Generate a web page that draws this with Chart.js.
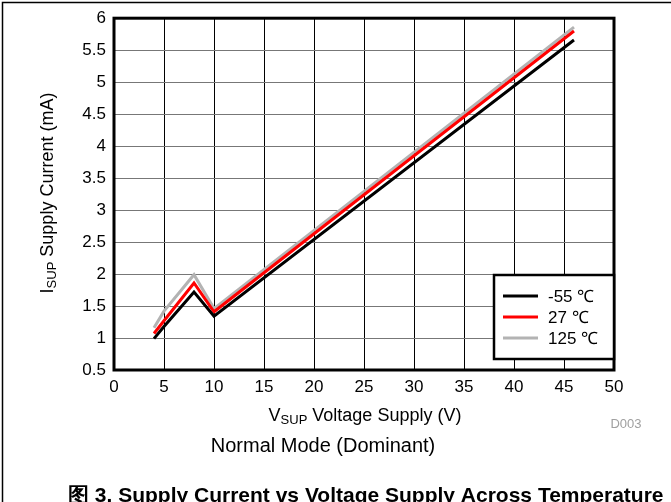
<!DOCTYPE html>
<html>
<head>
<meta charset="utf-8">
<script src="https://cdn.jsdelivr.net/npm/chart.js@4"></script>
<style>
  html, body { margin: 0; padding: 0; background: #fff; }
  #wrap { position: relative; width: 671px; height: 502px; }
</style>
</head>
<body>
<div id="wrap"><canvas id="supplyChart" width="671" height="502"></canvas></div>
<script>
// =============================
// data
// =============================
const voltage = [4, 5, 8, 10, 46];
const iMinus55 = [0.99, 1.18, 1.72, 1.34, 5.66];
const i27 = [1.07, 1.27, 1.86, 1.41, 5.8];
const i125 = [1.16, 1.42, 1.99, 1.46, 5.86];

const seriesLabels = ["-55 \u2103", "27 \u2103", "125 \u2103"];
const seriesColors = ["#000000", "#ff0000", "#b3b3b3"];

const xTicks = [0, 5, 10, 15, 20, 25, 30, 35, 40, 45, 50];
const yTicks = [0.5, 1, 1.5, 2, 2.5, 3, 3.5, 4, 4.5, 5, 5.5, 6];

const FONT = "'Liberation Sans', Arial, sans-serif";

function toPoints(ys) {
  return voltage.map((v, i) => ({ x: v, y: ys[i] }));
}

// text with a subscript part, drawn left to right on an alphabetic baseline
function drawSubText(ctx, parts, x, y) {
  let cx = x;
  parts.forEach((p) => {
    ctx.font = p.sub ? "13px " + FONT : "18px " + FONT;
    ctx.fillText(p.t, cx, y + (p.sub ? 3 : 0));
    cx += ctx.measureText(p.t).width;
  });
}
function measureSub(ctx, parts) {
  let w = 0;
  parts.forEach((p) => {
    ctx.font = p.sub ? "13px " + FONT : "18px " + FONT;
    w += ctx.measureText(p.t).width;
  });
  return w;
}

// frame, titles, legend box and captions
const decorPlugin = {
  id: "decor",
  afterDraw(chart) {
    const ctx = chart.ctx;
    const a = chart.chartArea;
    ctx.save();

    // outer page frame
    ctx.strokeStyle = "#000";
    ctx.lineWidth = 1.5;
    ctx.beginPath();
    ctx.moveTo(2.5, 502);
    ctx.lineTo(2.5, 2.5);
    ctx.lineTo(671, 2.5);
    ctx.stroke();

    // plot frame
    ctx.lineWidth = 3;
    ctx.strokeRect(a.left, a.top, a.right - a.left, a.bottom - a.top);

    // legend box
    const lx = 494, ly = 275, lw = 120, lh = 84;
    ctx.fillStyle = "#fff";
    ctx.fillRect(lx, ly, lw, lh);
    ctx.lineWidth = 2.5;
    ctx.strokeRect(lx, ly, lw, lh);
    ctx.font = "17px " + FONT;
    ctx.textBaseline = "middle";
    ctx.textAlign = "left";
    chart.data.datasets.forEach((ds, i) => {
      const yy = ly + 21 + i * 21;
      ctx.strokeStyle = ds.borderColor;
      ctx.lineWidth = 3;
      ctx.beginPath();
      ctx.moveTo(503, yy);
      ctx.lineTo(538, yy);
      ctx.stroke();
      ctx.fillStyle = "#000";
      ctx.fillText(ds.label, 548, yy + 1);
    });

    // x axis title
    ctx.fillStyle = "#000";
    ctx.textBaseline = "alphabetic";
    const xParts = [{ t: "V" }, { t: "SUP", sub: true }, { t: " Voltage Supply (V)" }];
    const xw = measureSub(ctx, xParts);
    drawSubText(ctx, xParts, 365 - xw / 2, 421);

    // y axis title
    ctx.save();
    ctx.translate(53, 193);
    ctx.rotate(-Math.PI / 2);
    const yParts = [{ t: "I" }, { t: "SUP", sub: true }, { t: " Supply Current (mA)" }];
    const yw = measureSub(ctx, yParts);
    drawSubText(ctx, yParts, -yw / 2, 0);
    ctx.restore();

    // figure id
    ctx.font = "13px " + FONT;
    ctx.fillStyle = "#a0a0a0";
    ctx.textAlign = "center";
    ctx.textBaseline = "middle";
    ctx.fillText("D003", 626, 424);

    // mode subtitle
    ctx.font = "20px " + FONT;
    ctx.fillStyle = "#000";
    ctx.textBaseline = "alphabetic";
    ctx.fillText("Normal Mode (Dominant)", 323, 452);

    // caption (cut by the page edge like the reference)
    ctx.font = "bold 21px " + FONT;
    ctx.textAlign = "left";
    ctx.fillText("\u56fe 3. Supply Current vs Voltage Supply Across Temperature", 68, 502);

    ctx.restore();
  },
};

const datasets = [iMinus55, i27, i125].map((ys, i) => ({
  label: seriesLabels[i],
  data: toPoints(ys),
  borderColor: seriesColors[i],
  borderWidth: 3,
  pointRadius: 0,
  tension: 0,
  fill: false,
  order: i,
}));

new Chart(document.getElementById("supplyChart"), {
  type: "line",
  data: { datasets },
  options: {
    responsive: false,
    animation: false,
    events: [],
    layout: { padding: { left: 0, top: 17, right: 57, bottom: 0 } },
    scales: {
      x: {
        type: "linear",
        min: 0,
        max: 50,
        afterBuildTicks: (s) => { s.ticks = xTicks.map((v) => ({ value: v })); },
        afterFit: (s) => { s.height = 132; },
        grid: { color: "#000", lineWidth: 1, drawTicks: false },
        border: { display: false },
        ticks: {
          color: "#000",
          font: { family: FONT, size: 17 },
          padding: 7,
          maxRotation: 0,
          callback: (v) => String(v),
        },
      },
      y: {
        type: "linear",
        min: 0.5,
        max: 6,
        afterBuildTicks: (s) => { s.ticks = yTicks.map((v) => ({ value: v })); },
        afterFit: (s) => { s.width = 114; },
        grid: { color: "#777", lineWidth: 1, drawTicks: false },
        border: { display: false },
        ticks: {
          color: "#000",
          font: { family: FONT, size: 17 },
          padding: 8,
          callback: (v) => String(v),
        },
      },
    },
    plugins: {
      legend: { display: false },
      tooltip: { enabled: false },
    },
  },
  plugins: [decorPlugin],
});
</script>
</body>
</html>
